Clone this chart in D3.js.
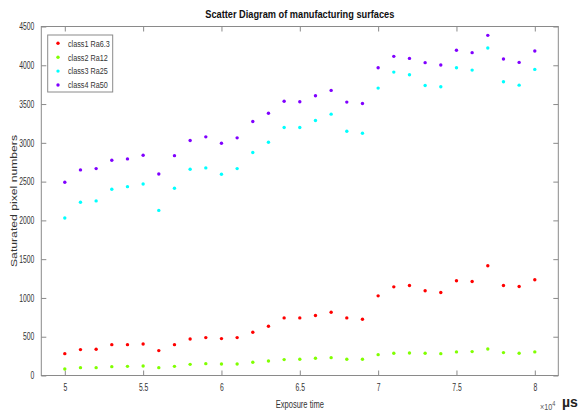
<!DOCTYPE html>
<html><head><meta charset="utf-8">
<script src="https://cdn.jsdelivr.net/npm/d3@7"></script>
<style>body{margin:0;background:#fff;} svg{display:block;}</style>
</head><body>
<svg id="c" width="579" height="414"></svg>
<script>
const exposure = [50000,51000,52000,53000,54000,55000,56000,57000,58000,59000,60000,61000,62000,63000,64000,65000,66000,67000,68000,69000,70000,71000,72000,73000,74000,75000,76000,77000,78000,79000,80000];
const class1 = [282,334,338,398,398,407,321,398,471,489,476,489,558,635,743,743,773,816,743,726,1027,1143,1160,1092,1070,1221,1212,1415,1160,1147,1234];
const class2 = [84,101,101,114,118,123,101,118,144,153,149,149,170,187,205,209,222,230,209,209,269,287,291,287,282,304,308,342,295,287,304];
const class3 = [2031,2233,2251,2401,2435,2470,2129,2414,2659,2677,2595,2668,2875,3008,3198,3198,3288,3370,3150,3124,3706,3912,3878,3740,3723,3969,3938,4222,3788,3744,3947];
const class4 = [2491,2651,2668,2775,2793,2840,2599,2835,3030,3077,2995,3064,3275,3382,3537,3529,3607,3676,3525,3508,3969,4115,4089,4034,4003,4193,4163,4386,4080,4037,4184];
const seriesNames = ["class1 Ra6.3","class2 Ra12","class3 Ra25","class4 Ra50"];
const seriesColors = ["#ff0000","#80ff00","#00ffff","#8000ff"];
const xTicks = [50000,55000,60000,65000,70000,75000,80000];
const yTicks = [0,500,1000,1500,2000,2500,3000,3500,4000,4500];

const font = "'Liberation Sans',Arial,sans-serif";
const svg = d3.select("#c");
const L = 41.3, R = 558.3, T = 26.5, B = 375.5;
const x = d3.scaleLinear().domain([48500, 81500]).range([L, R]);
const y = d3.scaleLinear().domain([0, 4500]).range([B, T]);
const axisCol = "#8a8a8a";
const tickSx = 0.68;

// plot box
svg.append("rect").attr("x", L).attr("y", T).attr("width", R - L).attr("height", B - T)
  .attr("fill", "none").attr("stroke", axisCol).attr("stroke-width", 1);

const tl = 5;
const gx = svg.append("g").attr("transform", `translate(0,${B})`)
  .call(d3.axisBottom(x).tickValues(xTicks).tickSize(-tl).tickPadding(8).tickFormat(d => d3.format("~g")(d / 1e4)));
svg.append("g").attr("transform", `translate(0,${T})`)
  .call(d3.axisTop(x).tickValues(xTicks).tickSize(-tl).tickFormat(""));
const gy = svg.append("g").attr("transform", `translate(${L},0)`)
  .call(d3.axisLeft(y).tickValues(yTicks).tickSize(-tl).tickFormat(d3.format("d")));
svg.append("g").attr("transform", `translate(${R},0)`)
  .call(d3.axisRight(y).tickValues(yTicks).tickSize(-tl).tickFormat(""));

svg.selectAll(".domain").remove();
svg.selectAll(".tick line").attr("stroke", axisCol);
svg.selectAll(".tick text").attr("font-family", font).attr("font-size", 10).attr("fill", "#333")
  .attr("transform", `scale(${tickSx},1)`);
gy.selectAll(".tick text").attr("x", -7 / tickSx);

// scatter
const allSeries = [class1, class2, class3, class4];
allSeries.forEach((vals, i) => {
  svg.append("g").selectAll("circle").data(vals).join("circle")
    .attr("cx", (d, j) => x(exposure[j])).attr("cy", d => y(d))
    .attr("r", 1.7).attr("fill", seriesColors[i]);
});

function ctext(px, py, sx, extra) {
  return svg.append("text").attr("transform", `translate(${px},${py}) ${extra || ""} scale(${sx},1)`)
    .attr("font-family", font);
}

ctext((L + R) / 2, 18, 0.84).attr("text-anchor", "middle").attr("font-size", 11).attr("font-weight", "bold")
  .attr("fill", "#111").text("Scatter Diagram of manufacturing surfaces");
ctext((L + R) / 2, 408, 0.72).attr("text-anchor", "middle").attr("font-size", 10.5).attr("fill", "#333")
  .text("Exposure time");
svg.append("text").attr("transform", `translate(17,${(T + B) / 2}) scale(0.75,1) rotate(-90)`)
  .attr("text-anchor", "middle").attr("font-family", font).attr("font-size", 12.2).attr("fill", "#333")
  .text("Saturated pixel numbers");
const ex = ctext(540, 410, 0.8).attr("font-size", 9).attr("fill", "#555");
ex.append("tspan").text("\u00d710");
ex.append("tspan").attr("dy", -4).attr("font-size", 7).text("4");
svg.append("text").attr("x", 562).attr("y", 407)
  .attr("font-family", font).attr("font-size", 14).attr("font-weight", "bold").attr("fill", "#222")
  .text("\u00b5s");

// legend
const lg = svg.append("g");
lg.append("rect").attr("x", 47.7).attr("y", 35).attr("width", 65).attr("height", 57)
  .attr("fill", "#fff").attr("stroke", axisCol).attr("stroke-width", 1);
seriesNames.forEach((n, i) => {
  const yy = 43.3 + i * 13.9;
  lg.append("circle").attr("cx", 58).attr("cy", yy).attr("r", 1.7).attr("fill", seriesColors[i]);
  lg.append("text").attr("transform", `translate(68,${yy + 3.3}) scale(0.76,1)`).attr("font-family", font)
    .attr("font-size", 9.5).attr("fill", "#333").text(n);
});
</script>
</body></html>
